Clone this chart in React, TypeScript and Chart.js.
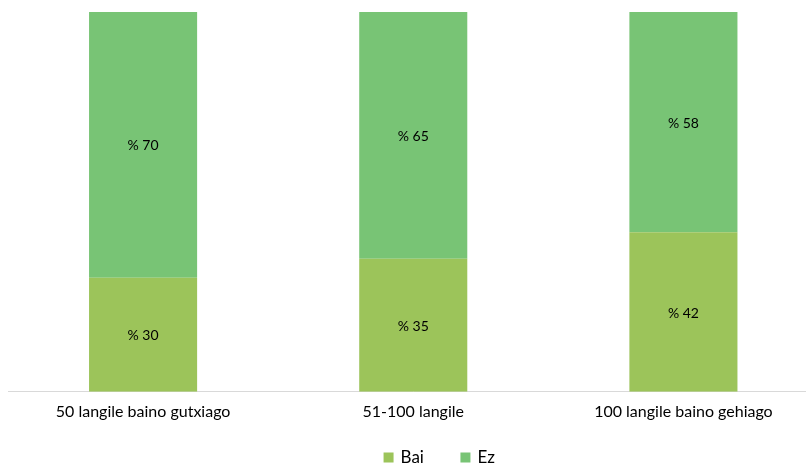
import React, { useEffect, useRef } from "react";
import { Chart, registerables } from "chart.js";

Chart.register(...registerables);

const categories = ["50 langile baino gutxiago", "51-100 langile", "100 langile baino gehiago"];
const baiValues = [30, 35, 42];
const ezValues = [70, 65, 58];
const seriesNames = ["Bai", "Ez"];
const seriesColors = ["#9CC45A", "#78C475"];
const FONT = "Lato, 'Open Sans', sans-serif";

const labelPlugin = {
  id: "segLabels",
  afterDatasetsDraw(chart: any) {
    const ctx = chart.ctx;
    ctx.save();
    ctx.fillStyle = "#000000";
    ctx.font = `14px ${FONT}`;
    ctx.textAlign = "center";
    ctx.textBaseline = "middle";
    chart.data.datasets.forEach((ds: any, di: number) => {
      const meta = chart.getDatasetMeta(di);
      meta.data.forEach((el: any, i: number) => {
        const p = el.getProps(["x", "y", "base"], true);
        ctx.fillText(`% ${ds.data[i]}`, p.x, (p.y + p.base) / 2 + 1);
      });
    });
    ctx.restore();
  },
};

const legendPlugin = {
  id: "customLegend",
  afterDraw(chart: any) {
    const ctx = chart.ctx;
    const box = 10;
    const textGap = 7;
    const itemGap = 36.5;
    ctx.save();
    ctx.font = `17px ${FONT}`;
    ctx.textBaseline = "middle";
    ctx.textAlign = "left";
    const items = chart.data.datasets.map((ds: any) => ({
      label: ds.label,
      color: ds.backgroundColor,
      w: ctx.measureText(ds.label).width,
    }));
    const total = items.reduce((s: number, it: any, i: number) => s + box + textGap + it.w + (i > 0 ? itemGap : 0), 0);
    const cx = (chart.chartArea.left + chart.chartArea.right) / 2 + 26;
    let x = cx - total / 2;
    const y = chart.height - 6.5;
    items.forEach((it: any) => {
      ctx.fillStyle = it.color;
      ctx.fillRect(x, y - box / 2, box, box);
      ctx.fillStyle = "#000000";
      ctx.fillText(it.label, x + box + textGap, y);
      x += box + textGap + it.w + itemGap;
    });
    ctx.restore();
  },
};

export default function App() {
  const ref = useRef<HTMLCanvasElement | null>(null);
  useEffect(() => {
    if (!ref.current) return;
    const chart = new Chart(ref.current, {
      type: "bar",
      data: {
        labels: categories,
        datasets: [
          { label: seriesNames[0], data: baiValues, backgroundColor: seriesColors[0], barPercentage: 0.4, categoryPercentage: 1 },
          { label: seriesNames[1], data: ezValues, backgroundColor: seriesColors[1], barPercentage: 0.4, categoryPercentage: 1 },
        ],
      },
      options: {
        responsive: false,
        animation: false,
        devicePixelRatio: 1,
        layout: { padding: { left: 8, right: 1.5, top: 12, bottom: 33 } },
        plugins: {
          legend: { display: false },
          tooltip: { enabled: false },
        },
        scales: {
          x: {
            stacked: true,
            grid: { display: false, drawTicks: false },
            border: { color: "#D9D9D9", width: 1 },
            ticks: { color: "#000000", font: { family: FONT, size: 16 }, padding: 10, maxRotation: 0 },
          },
          y: {
            stacked: true,
            display: false,
            min: 0,
            max: 100,
          },
        },
      },
      plugins: [labelPlugin, legendPlugin],
    });
    return () => chart.destroy();
  }, []);
  return (
    <div style={{ position: "fixed", left: 0, top: 0, width: 806, height: 464, overflow: "hidden", background: "#fff" }}>
      <canvas ref={ref} width={820} height={464} style={{ display: "block" }} />
    </div>
  );
}
